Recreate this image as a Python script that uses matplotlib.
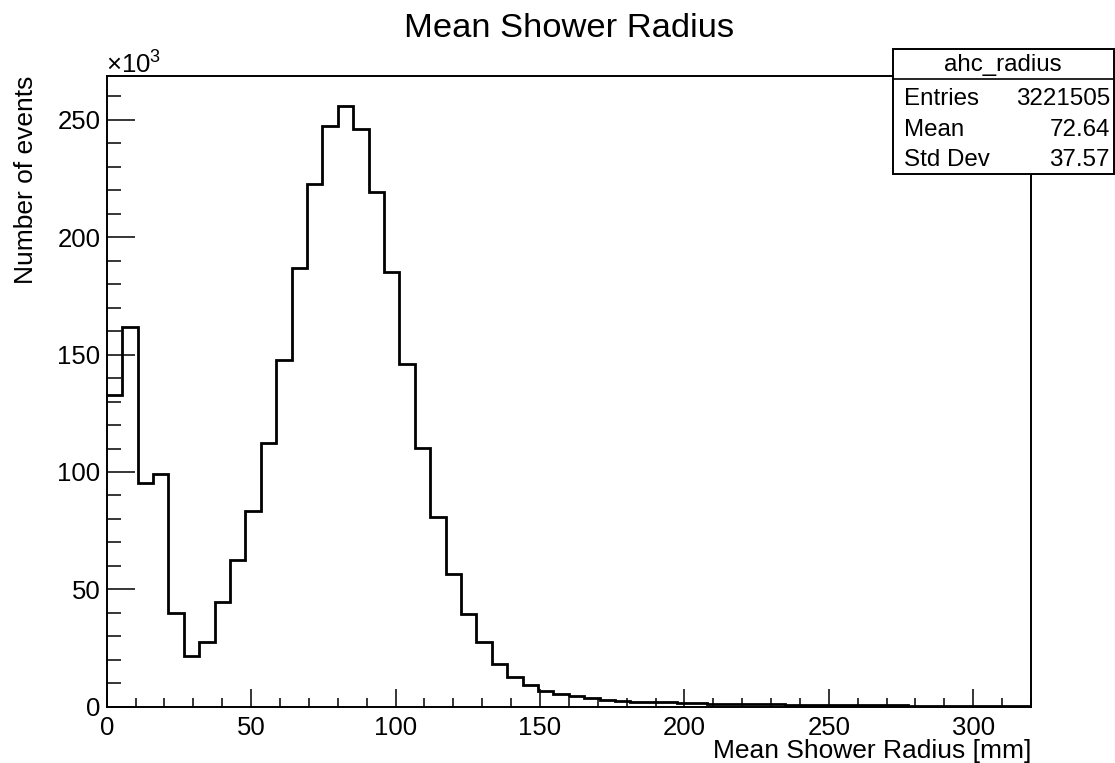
import numpy as np
import matplotlib
matplotlib.use('Agg')
import matplotlib.pyplot as plt
from matplotlib.patches import Rectangle
from matplotlib.lines import Line2D
from matplotlib.ticker import MultipleLocator

plt.rcParams['font.family'] = ['Liberation Sans', 'DejaVu Sans']
plt.rcParams['mathtext.fontset'] = 'custom'
plt.rcParams['mathtext.rm'] = 'Liberation Sans'

# histogram: 60 bins from 0 to 320 mm, contents in units of 10^3 events
x_min, x_max, n_bins = 0, 320, 60
counts_k = [133.0, 161.7, 95.3, 99.0, 40.1, 21.4, 27.4, 44.4, 62.4, 83.4,
            112.2, 147.7, 186.8, 222.5, 247.6, 255.9, 246.0, 219.3, 185.2, 146.0,
            110.3, 80.8, 56.6, 39.7, 27.4, 18.3, 12.7, 9.2, 6.8, 5.4,
            4.4, 3.5, 3.0, 2.5, 2.2, 2.0, 1.8, 1.6, 1.45, 1.3,
            1.2, 1.1, 1.0, 0.95, 0.9, 0.85, 0.8, 0.75, 0.7, 0.65,
            0.6, 0.55, 0.5, 0.48, 0.45, 0.42, 0.4, 0.38, 0.36, 0.34]

hist_name = 'ahc_radius'
stat_names = ['Entries', 'Mean', 'Std Dev']
stat_values = ['3221505', '72.64', '37.57']

title = 'Mean Shower Radius'
xlabel = 'Mean Shower Radius [mm]'
ylabel = 'Number of events'

W, H = 1115, 763


def fx(x):
    return x / W


def fy(y):
    return 1 - y / H


fig = plt.figure(figsize=(W / 100, H / 100), dpi=100)
ax = fig.add_axes([fx(106.7), fy(706.7), (1031 - 106.7) / W, (706.7 - 76) / H])

edges = np.linspace(x_min, x_max, n_bins + 1)
ax.stairs(counts_k, edges, baseline=None, color='black', linewidth=2.0)

ax.set_xlim(x_min, x_max)
ax.set_ylim(0, 1.05 * max(counts_k))

ax.xaxis.set_major_locator(MultipleLocator(50))
ax.xaxis.set_minor_locator(MultipleLocator(10))
ax.yaxis.set_major_locator(MultipleLocator(50))
ax.yaxis.set_minor_locator(MultipleLocator(10))

ax.tick_params(axis='both', which='both', direction='in', width=1.1,
               top=False, right=False, labelsize=18.5)
ax.tick_params(axis='x', which='major', length=12.7, pad=7)
ax.tick_params(axis='x', which='minor', length=6.3)
ax.tick_params(axis='y', which='major', length=20, pad=4.5)
ax.tick_params(axis='y', which='minor', length=10)

for s in ax.spines.values():
    s.set_linewidth(1.4)

# axis titles, ROOT style (aligned at the axis ends)
fig.text(fx(1031), fy(758), xlabel, ha='right', va='baseline', fontsize=19)
fig.text(fx(33), fy(76), ylabel, rotation=90, rotation_mode='anchor',
         ha='right', va='baseline', fontsize=19)
fig.text(fx(106), fy(72.3), r'×10$^{3}$', ha='left', va='baseline', fontsize=18.5)

fig.text(fx(569.5), fy(37), title, ha='center', va='baseline', fontsize=24.8)

# statistics box
bx0, by0, bx1, by1 = 892.7, 49.3, 1113.5, 174.3
fig.add_artist(Rectangle((fx(bx0), fy(by1)), (bx1 - bx0) / W, (by1 - by0) / H,
                         transform=fig.transFigure, facecolor='white',
                         edgecolor='black', linewidth=1.4, zorder=2))
fig.add_artist(Line2D([fx(bx0), fx(bx1)], [fy(79.3), fy(79.3)],
                      transform=fig.transFigure, color='black', linewidth=1.2, zorder=3))
fig.text(fx((bx0 + bx1) / 2), fy(71), hist_name, ha='center', va='baseline',
         fontsize=17.4, zorder=4)
row_base = [105, 135.5, 166]
for name, val, yb in zip(stat_names, stat_values, row_base):
    fig.text(fx(904), fy(yb), name, ha='left', va='baseline', fontsize=17.4, zorder=4)
    fig.text(fx(1110), fy(yb), val, ha='right', va='baseline', fontsize=17.4, zorder=4)

fig.savefig('out.png', dpi=100)
